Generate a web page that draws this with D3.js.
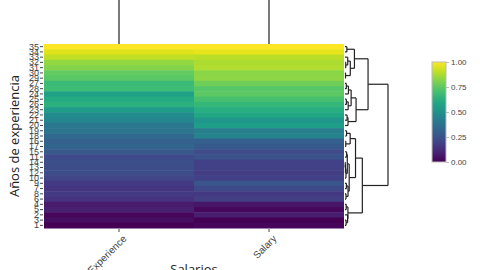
<!DOCTYPE html>
<html><head><meta charset="utf-8">
<script src="https://cdn.jsdelivr.net/npm/d3@7"></script>
<style>body{margin:0;background:#fff}svg{display:block}</style>
</head><body>
<script>
// ---- data (normalized 0..1 values, row names 1..35) ----
const rowNames = d3.range(1, 36).map(String);
const columns = ["YearsExperience", "Salary"];
const yearsExperience = [0.000,0.016,0.032,0.073,0.089,0.145,0.153,0.169,0.169,0.210,0.226,0.234,0.234,0.242,0.274,0.306,0.323,0.339,0.387,0.395,0.460,0.484,0.548,0.573,0.613,0.637,0.677,0.685,0.742,0.758,0.815,0.839,0.903,0.952,1.000];
const salary = [0.016,0.083,0.000,0.057,0.021,0.186,0.220,0.164,0.263,0.191,0.251,0.178,0.189,0.190,0.230,0.297,0.278,0.446,0.429,0.553,0.531,0.595,0.625,0.748,0.705,0.667,0.778,0.736,0.832,0.827,0.881,0.875,0.895,0.963,1.000];
const colorTicks = [0, 0.25, 0.5, 0.75, 1];
const xTitle = "Salarios", yTitle = "Años de experiencia";

const W = 480, H = 270;
const svg = d3.select("body").append("svg").attr("width", W).attr("height", H)
  .style("font-family", "'Open Sans', 'DejaVu Sans', sans-serif");

// ---- hierarchical clustering (complete linkage, euclidean) ----
const pts = rowNames.map((n, i) => ({name: n, v: [yearsExperience[i], salary[i]]}));
const dist = (a, b) => Math.hypot(a.v[0] - b.v[0], a.v[1] - b.v[1]);
let clusters = pts.map(p => ({leaves: [p], h: 0, children: null, mean: (p.v[0] + p.v[1]) / 2}));
while (clusters.length > 1) {
  let best = [0, 1, Infinity];
  for (let i = 0; i < clusters.length; i++) for (let j = i + 1; j < clusters.length; j++) {
    let m = 0;
    for (const a of clusters[i].leaves) for (const b of clusters[j].leaves) m = Math.max(m, dist(a, b));
    if (m < best[2]) best = [i, j, m];
  }
  const [i, j, h] = best;
  const A = clusters[i], B = clusters[j];
  const leaves = A.leaves.concat(B.leaves);
  const node = {leaves, h, children: [A, B], mean: d3.mean(leaves, l => (l.v[0] + l.v[1]) / 2)};
  clusters = clusters.filter((_, k) => k !== i && k !== j);
  clusters.push(node);
}
const root = clusters[0];
// order leaves: higher mean on top
const order = [];
(function walk(n) {
  if (!n.children) { order.push(n.leaves[0]); return; }
  const [a, b] = n.children.slice().sort((p, q) => q.mean - p.mean);
  walk(a); walk(b);
})(root);

// ---- scales ----
const hmLeft = 44, hmRight = 344, hmTop = 44, hmBottom = 228;
const x = d3.scaleBand().domain(columns).range([hmLeft, hmRight]);
const y = d3.scaleBand().domain(order.map(d => d.name)).range([hmTop, hmBottom]);
const color = d3.scaleSequential(d3.interpolateViridis).domain([0, 1]);

// ---- heatmap cells ----
const cells = [];
order.forEach(p => columns.forEach((c, ci) => cells.push({row: p.name, col: c, val: p.v[ci]})));
svg.append("g").selectAll("rect").data(cells).join("rect")
  .attr("x", d => x(d.col)).attr("y", d => y(d.row))
  .attr("width", x.bandwidth()).attr("height", y.bandwidth() + 0.5)
  .attr("fill", d => color(d.val));

// ---- axes ----
const yAxis = svg.append("g").attr("transform", `translate(${hmLeft - 1},0)`)
  .call(d3.axisLeft(y).tickSize(3).tickPadding(1));
yAxis.select(".domain").remove();
yAxis.selectAll("text").attr("font-size", 9).attr("fill", "#444");
yAxis.selectAll("line").attr("stroke", "#444");

const xAxis = svg.append("g").attr("transform", `translate(0,${hmBottom + 1})`)
  .call(d3.axisBottom(x).tickSize(3));
xAxis.select(".domain").remove();
xAxis.selectAll("line").attr("stroke", "#444");
xAxis.selectAll("text").attr("font-size", 10).attr("fill", "#444")
  .attr("text-anchor", "end").attr("dy", 0)
  .attr("transform", "translate(4,6) rotate(-45)");

svg.append("text").attr("x", 194).attr("y", 274).attr("text-anchor", "middle")
  .attr("font-size", 13).attr("fill", "#222").text(xTitle);
svg.append("text").attr("transform", "translate(19,136) rotate(-90)")
  .attr("text-anchor", "middle").attr("font-size", 13).attr("fill", "#222").text(yTitle);

// ---- column dendrogram (only stems visible) ----
svg.append("g").selectAll("line").data(columns).join("line")
  .attr("x1", d => x(d) + x.bandwidth() / 2).attr("x2", d => x(d) + x.bandwidth() / 2)
  .attr("y1", -5).attr("y2", hmTop).attr("stroke", "#222").attr("stroke-width", 1.2);

// ---- row dendrogram ----
const dx = d3.scaleLinear().domain([0, root.h]).range([hmRight + 1, 388]);
const dg = svg.append("g").attr("fill", "none").attr("stroke", "#222").attr("stroke-width", 1.2);
function pos(n) {
  if (!n.children) return {x: dx(0), y: y(n.leaves[0].name) + y.bandwidth() / 2};
  const ps = n.children.map(pos);
  const nx = dx(n.h), ny = d3.mean(ps, p => p.y);
  ps.forEach(p => dg.append("path").attr("d", `M${p.x},${p.y}H${nx}`));
  dg.append("path").attr("d", `M${nx},${ps[0].y}V${ps[1].y}`);
  return {x: nx, y: ny};
}
pos(root);

// ---- colorbar ----
const cbX = 432, cbW = 14, cbTop = 62, cbBot = 162;
const defs = svg.append("defs");
const grad = defs.append("linearGradient").attr("id", "vg").attr("x1", 0).attr("y1", 1).attr("x2", 0).attr("y2", 0);
d3.range(0, 1.001, 0.1).forEach(t => grad.append("stop").attr("offset", t).attr("stop-color", color(t)));
svg.append("rect").attr("x", cbX).attr("y", cbTop).attr("width", cbW).attr("height", cbBot - cbTop)
  .attr("fill", "url(#vg)").attr("stroke", "#bbb").attr("stroke-width", 1);
const cy = d3.scaleLinear().domain([0, 1]).range([cbBot, cbTop]);
const cAxis = svg.append("g").attr("transform", `translate(${cbX + cbW},0)`)
  .call(d3.axisRight(cy).tickValues(colorTicks).tickFormat(d3.format(".2f")).tickSize(3).tickPadding(2));
cAxis.select(".domain").remove();
cAxis.selectAll("line").attr("stroke", "#bbb");
cAxis.selectAll("text").attr("font-size", 8).attr("fill", "#444");
</script>
</body></html>
